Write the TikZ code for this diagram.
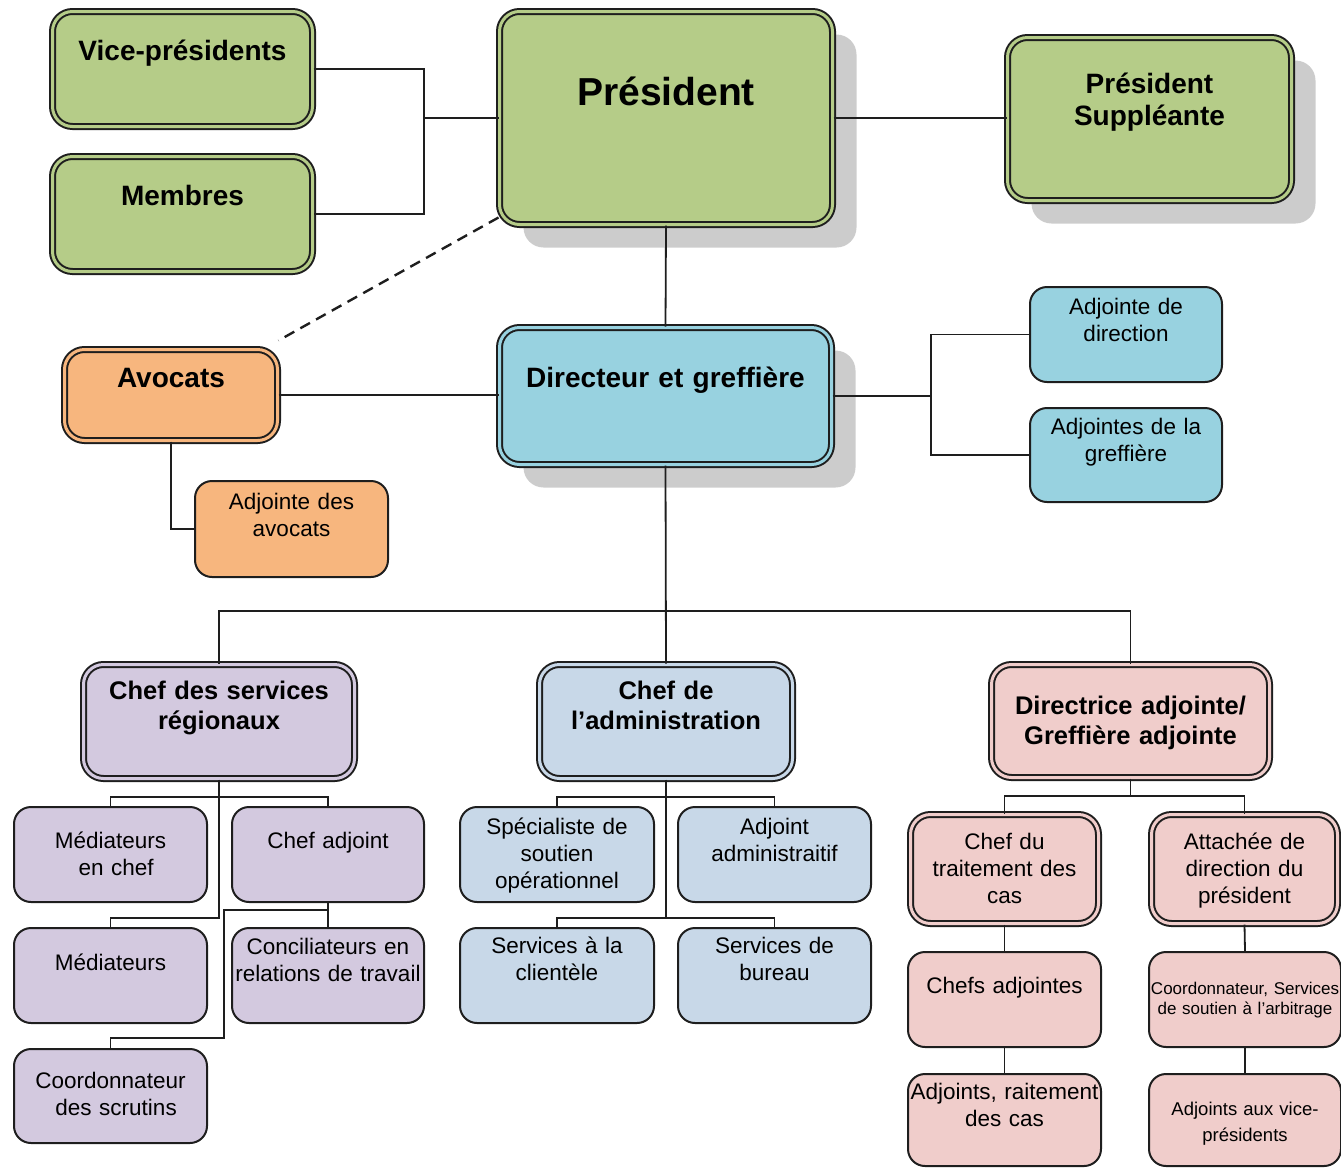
\documentclass[tikz,border=0pt]{standalone}
\usepackage{fontspec}
\setmainfont{Liberation Sans}
\usetikzlibrary{shadows}

\definecolor{vertpres}{RGB}{181,204,136}
\definecolor{orangeavo}{RGB}{247,182,126}
\definecolor{bleudir}{RGB}{152,210,224}
\definecolor{mauvereg}{RGB}{211,201,223}
\definecolor{bleuadm}{RGB}{200,216,232}
\definecolor{roseadj}{RGB}{240,205,203}
\definecolor{trait}{RGB}{30,30,30}

\newcommand{\fpres}{\fontsize{39}{45}\selectfont\bfseries}
\newcommand{\ftitre}{\fontsize{28}{32.5}\selectfont\bfseries}
\newcommand{\fchef}{\fontsize{25.5}{30.5}\selectfont\bfseries}
\newcommand{\ftexte}{\fontsize{22.5}{27}\selectfont}
\newcommand{\fmoyen}{\fontsize{18.5}{26}\selectfont}
\newcommand{\fpetit}{\fontsize{17}{20}\selectfont}

\begin{document}
\begin{tikzpicture}[x=1pt, y=-1pt]
        \tikzstyle{boite}=[draw=trait, line width=2pt, rounded corners=17pt, align=center, inner sep=0pt, anchor=north west, font=\ftexte]
        \tikzstyle{double boite}=[boite, line width=2pt, double=#1, double distance=3pt, fill=#1, rounded corners=20pt]
        \tikzstyle{ombre}=[drop shadow={shadow xshift=24pt, shadow yshift=-23pt, fill=black!20, opacity=1}]
        \tikzstyle{lien}=[draw=trait, line width=1.8pt]
        \tikzset{dim/.style n args={3}{text width=#1, text height=#2, text depth=#3}}

        \useasboundingbox (0,0) rectangle (1341,1168);

        % haut
        \node[double boite=vertpres, dim={260pt}{48.5pt}{66.5pt}, font=\ftitre] (vp) at (51.5,10.5) {Vice-présidents};
        \node[double boite=vertpres, dim={260pt}{48.5pt}{66.5pt}, font=\ftitre] (mem) at (51.5,155.5) {Membres};
        \node[double boite=vertpres, ombre, dim={333pt}{93.5pt}{119.5pt}, font=\fpres] (pres) at (498.5,10.5) {Président};
        \node[double boite=vertpres, ombre, dim={284pt}{55.5pt}{107.5pt}, font=\ftitre] (supp) at (1006.5,36.5) {Président\\Suppléante};

        % direction
        \node[double boite=bleudir, ombre, dim={332pt}{59.5pt}{77.5pt}, font=\ftitre] (dir) at (498.5,326.5) {Directeur et greffière};
        \node[double boite=orangeavo, dim={213pt}{37.5pt}{53.5pt}, font=\ftitre] (avo) at (63.5,348.5) {Avocats};
        \node[boite, fill=orangeavo, dim={193pt}{28pt}{68pt}] (adjavo) at (194,480) {Adjointe des\\avocats};
        \node[boite, fill=bleudir, dim={192pt}{27pt}{68pt}] (adjdir) at (1029,286) {Adjointe de\\direction};
        \node[boite, fill=bleudir, dim={192pt}{26pt}{68pt}] (adjgre) at (1029,407) {Adjointes de la\\greffière};

        % chefs
        \node[double boite=mauvereg, dim={271pt}{34.5pt}{79.5pt}, font=\fchef] (csr) at (82.5,663.5) {Chef des services\\régionaux};
        \node[double boite=bleuadm, dim={253pt}{34.5pt}{79.5pt}, font=\fchef] (cadm) at (538.5,663.5) {Chef de\\l’administration};
        \node[double boite=roseadj, dim={278pt}{49.5pt}{63.5pt}, font=\fchef] (dirad) at (990.5,663.5) {Directrice adjointe/\\Greffière adjointe};

        % services regionaux
        \node[boite, fill=mauvereg, dim={193pt}{41pt}{54pt}] (mec) at (13,806) {Médiateurs\\\hspace*{0.5em}en chef};
        \node[boite, fill=mauvereg, dim={192pt}{41pt}{54pt}] (cadj) at (231,806) {Chef adjoint};
        \node[boite, fill=mauvereg, dim={193pt}{42pt}{53pt}] (med) at (13,927) {Médiateurs};
        \node[boite, fill=mauvereg, dim={192pt}{26pt}{69pt}] (conc) at (231,927) {Conciliateurs en\\relations de travail};
        \node[boite, fill=mauvereg, dim={193pt}{39pt}{55pt}] (coo) at (13,1048) {Coordonnateur\\\hspace*{0.5em}des scrutins};

        % administration
        \node[boite, fill=bleuadm, dim={194pt}{27pt}{68pt}] (spec) at (459,806) {Spécialiste de\\soutien\\opérationnel};
        \node[boite, fill=bleuadm, dim={193pt}{27pt}{68pt}] (adm) at (677,806) {Adjoint\\administraitif};
        \node[boite, fill=bleuadm, dim={194pt}{25pt}{70pt}] (scl) at (459,927) {Services à la\\clientèle};
        \node[boite, fill=bleuadm, dim={193pt}{25pt}{70pt}] (sbu) at (677,927) {Services de\\bureau};

        % directrice adjointe
        \node[double boite=roseadj, dim={188pt}{34.5pt}{74.5pt}] (ctc) at (909.5,813.5) {Chef du\\traitement des\\cas};
        \node[double boite=roseadj, dim={186pt}{34.5pt}{74.5pt}] (att) at (1150.5,813.5) {Attachée de\\direction du\\président};
        \node[boite, fill=roseadj, dim={193pt}{41pt}{54pt}] (cha) at (907,951) {Chefs adjointes};
        \node[boite, fill=roseadj, dim={192pt}{42pt}{53pt}, font=\fpetit] (css) at (1148,951) {Coordonnateur, Services\\de soutien à l’arbitrage};
        \node[boite, fill=roseadj, dim={193pt}{25pt}{67pt}] (adr) at (907,1073) {Adjoints, raitement\\des cas};
        \node[boite, fill=roseadj, dim={192pt}{41pt}{51pt}, font=\fmoyen] (avp) at (1148,1073) {Adjoints aux vice-\\présidents};

        % liens du haut
        \coordinate (jvp) at ([xshift=-74.5pt]pres.west);
        \draw[lien] (vp.east) -| (jvp) |- (mem.east);
        \draw[lien] (jvp) -- (pres.west);
        \draw[lien] (pres.east) -- (pres.east -| supp.west);
        \draw[lien] (pres.south) -- (dir.north);
        \draw[lien, line width=2.4pt, dash pattern=on 11pt off 7pt] ([yshift=8pt]pres.south west) -- ([yshift=8pt]avo.north east);
        \draw[lien] (avo.east) -- (avo.east -| dir.west);
        \draw[lien] (avo.south) |- (adjavo.west);
        \coordinate (jdir) at ([xshift=98.5pt]dir.east);
        \draw[lien] (dir.east) -- (jdir);
        \draw[lien] (adjdir.west) -| (jdir) |- (adjgre.west);

        % bus principal
        \coordinate (bus) at (0,611);
        \draw[lien] (dir.south) -- (cadm.north);
        \draw[lien] (csr.north) |- (bus -| dirad.north) -- (dirad.north);

        % liens du bas
        \coordinate (bus1) at (0,797);
        \coordinate (bus2) at (0,918);
        \coordinate (bus3) at (0,796);
        \coordinate (jcoo) at (224,910);
        \draw[lien] (mec.north) |- (bus1 -| cadj.north) -- (cadj.north);
        \draw[lien] (csr.south) |- (bus2 -| med.north) -- (med.north);
        \draw[lien] (cadj.south) -- (conc.north);
        \draw[lien] (jcoo -| cadj.south) -| (jcoo |- 0,1038) -| (coo.north);

        \draw[lien] (spec.north) |- (bus1 -| adm.north) -- (adm.north);
        \draw[lien] (cadm.south) -- (cadm.south |- bus2);
        \draw[lien] (scl.north) |- (bus2 -| sbu.north) -- (sbu.north);

        \draw[lien] (dirad.south) -- (dirad.south |- bus3);
        \draw[lien] (ctc.north) |- (bus3 -| att.north) -- (att.north);
        \draw[lien] (ctc.south) -- (cha.north);
        \draw[lien] (cha.south) -- (adr.north);
        \draw[lien] (att.south) -- (css.north);
        \draw[lien] (css.south) -- (avp.north);
\end{tikzpicture}
\end{document}
